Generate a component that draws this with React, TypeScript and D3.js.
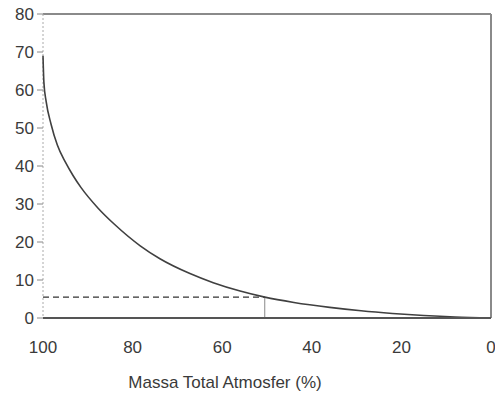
import * as d3 from 'd3';

// mass fraction (%) vs altitude
const massPct = [100, 99.8, 99.3, 98.2, 96.8, 95, 93.3, 91.5, 87.7, 84, 78.3, 73.9, 67.2, 62, 56, 50.5, 44, 36, 29, 22, 15, 8, 0];
const altitude = [69, 62, 57, 51, 45.5, 41, 37.5, 34.3, 28.9, 24.6, 19.0, 15.6, 11.7, 9.3, 7.1, 5.5, 4.1, 2.8, 1.9, 1.2, 0.65, 0.25, 0];
const yTicks = [0, 10, 20, 30, 40, 50, 60, 70, 80];
const xTicks = [100, 80, 60, 40, 20, 0];
const halfMass = 50.5;
const halfAlt = 5.5;
const xTitle = 'Massa Total Atmosfer (%)';

export default function App() {
  const W = 495;
  const H = 397;
  const margin = { top: 14, right: 4, bottom: 79, left: 43 };
  const innerW = W - margin.left - margin.right;
  const innerH = H - margin.top - margin.bottom;

  const x = d3.scaleLinear().domain([100, 0]).range([0, innerW]);
  const y = d3.scaleLinear().domain([0, 80]).range([innerH, 0]);

  const pts = massPct.map((m, i) => [m, altitude[i]] as [number, number]);
  const line = d3.line<[number, number]>()
    .x((d) => x(d[0]))
    .y((d) => y(d[1]))
    .curve(d3.curveMonotoneX);

  const font = 'Liberation Sans, Arial, sans-serif';
  const ink = '#3a3a3a';

  return (
    <svg width={W} height={H} style={{ position: 'absolute', left: 0, top: 0, background: '#fff' }}>
      <g transform={`translate(${margin.left},${margin.top})`}>
        {/* frame */}
        <line x1={0} x2={innerW} y1={0} y2={0} stroke="#8a8a8a" strokeWidth={2} />
        <line x1={innerW} x2={innerW} y1={0} y2={innerH} stroke="#8a8a8a" strokeWidth={2} />
        <line x1={0} x2={0} y1={0} y2={innerH} stroke="#aaa" strokeWidth={1} strokeDasharray="2,2" />

        {/* 50% marker */}
        <line x1={x(100)} x2={x(halfMass)} y1={y(halfAlt)} y2={y(halfAlt)} stroke="#333" strokeWidth={1.2} strokeDasharray="6,4" />
        <line x1={x(halfMass)} x2={x(halfMass)} y1={y(0)} y2={y(halfAlt)} stroke="#888" strokeWidth={1} />

        <path d={line(pts) ?? ''} fill="none" stroke="#404040" strokeWidth={1.6} />

        <line x1={0} x2={innerW} y1={innerH} y2={innerH} stroke="#555" strokeWidth={2} />

        {yTicks.map((t) => (
          <g key={t} transform={`translate(0,${y(t)})`}>
            <line x1={-6} x2={0} stroke="#888" strokeWidth={1} />
            <text x={-9} dy="0.35em" textAnchor="end" fontFamily={font} fontSize={17} fill={ink}>
              {t}
            </text>
          </g>
        ))}

        {xTicks.map((t) => (
          <text key={t} x={x(t)} y={innerH + 35} textAnchor="middle" fontFamily={font} fontSize={17} fill={ink}>
            {t}
          </text>
        ))}

        <text x={(x(100) + x(0)) / 2 - 42} y={innerH + 70} textAnchor="middle" fontFamily={font} fontSize={17} fill={ink}>
          {xTitle}
        </text>
      </g>
    </svg>
  );
}
